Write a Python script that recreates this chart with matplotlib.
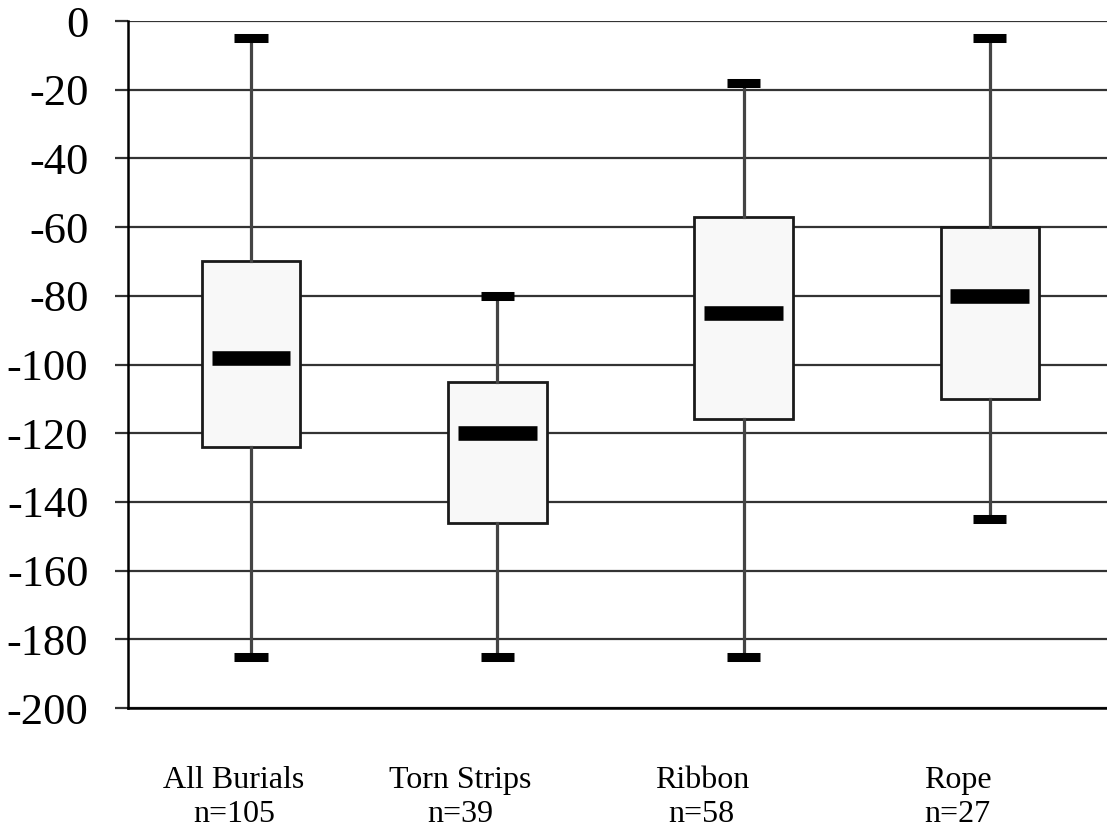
import matplotlib.pyplot as plt

# values
categories = ['All Burials', 'Torn Strips', 'Ribbon', 'Rope']
counts = [105, 39, 58, 27]
whisker_high = [-5, -80, -18, -5]
q3 = [-70, -105, -57, -60]
medians = [-98, -120, -85, -80]
q1 = [-124, -146, -116, -110]
whisker_low = [-185, -185, -185, -145]

plt.rcParams['font.family'] = ['Liberation Serif', 'DejaVu Serif']
plt.rcParams['axes.unicode_minus'] = False

fig = plt.figure(figsize=(11.07, 8.32), dpi=100)
ax = fig.add_axes([0.1156, 0.149, 0.8844, 0.8257])

positions = list(range(1, len(categories) + 1))
stats = []
for i in range(len(categories)):
    stats.append({'med': medians[i], 'q1': q1[i], 'q3': q3[i],
                  'whislo': whisker_low[i], 'whishi': whisker_high[i],
                  'fliers': []})

ax.bxp(stats, positions=positions, widths=0.4, capwidths=0.135,
       showfliers=False, patch_artist=True,
       boxprops=dict(facecolor='#f8f8f8', edgecolor='#1a1a1a', linewidth=2.0),
       whiskerprops=dict(color='#444444', linewidth=2.3),
       capprops=dict(color='black', linewidth=6.5, solid_capstyle='butt'),
       medianprops=dict(linewidth=0), zorder=3)

# thick median bars, a bit narrower than the boxes
for p, m in zip(positions, medians):
    ax.hlines(m, p - 0.16, p + 0.16, colors='black', linewidth=10.5, zorder=4)

ax.set_xlim(0.5, 4.476)
ax.set_ylim(-200, 0)
ax.set_yticks(range(-200, 1, 20))
ax.yaxis.grid(True, color='#333333', linewidth=1.6, zorder=0)
ax.set_axisbelow(True)

for s in ['top', 'right']:
    ax.spines[s].set_visible(False)
ax.spines['left'].set_linewidth(1.8)
ax.spines['bottom'].set_linewidth(1.8)

ax.tick_params(axis='y', direction='out', length=9.5, width=1.6,
               color='#333333', pad=19, labelsize=32)

# category labels sit a little left of the boxes, as in the original
label_shift = [0.07, 0.15, 0.17, 0.13]
labels = [f'{c}\nn={n}' for c, n in zip(categories, counts)]
ax.set_xticks([p - s for p, s in zip(positions, label_shift)])
ax.set_xticklabels(labels, fontsize=23, linespacing=1.2)
ax.tick_params(axis='x', length=0, pad=42)

fig.savefig('out.png', dpi=100)
